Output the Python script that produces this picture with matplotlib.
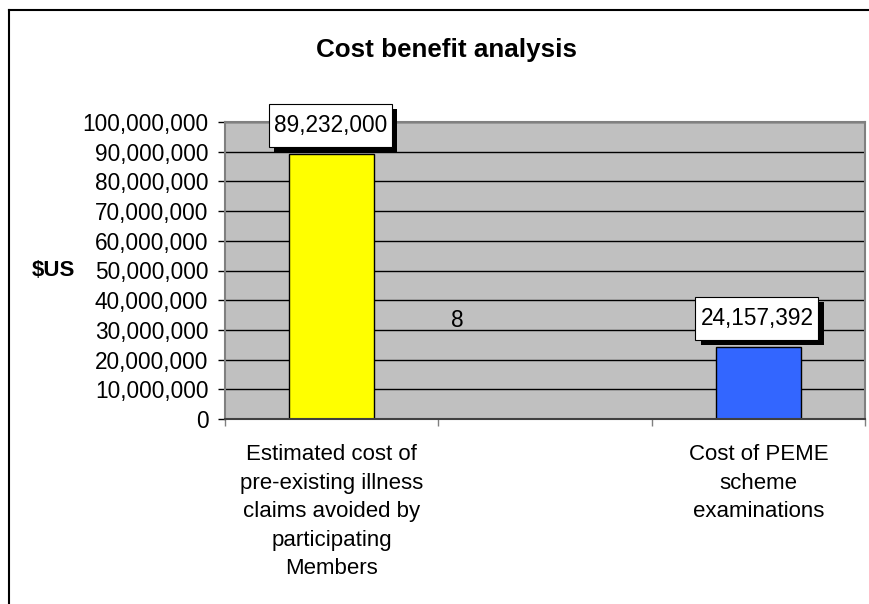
import matplotlib
matplotlib.use("Agg")
import matplotlib.pyplot as plt
import matplotlib.patheffects as pe
from matplotlib.lines import Line2D
from matplotlib.path import Path
from matplotlib.ticker import FuncFormatter, MultipleLocator, FixedLocator

plt.rcParams['font.family'] = ['Liberation Sans', 'DejaVu Sans']

categories = ["Estimated cost of\npre-existing illness\nclaims avoided by\nparticipating\nMembers",
              "",
              "Cost of PEME\nscheme\nexaminations"]
values = [89232000, 8, 24157392]
bar_colors = ["#FFFF00", "#C0C0C0", "#3366FF"]
value_labels = ["89,232,000", None, "24,157,392"]
middle_label = "8"
title = "Cost benefit analysis"
ylabel = "$US"


def label_box(x0, y0, width, height, mutation_size):
    padx = 0.22 * mutation_size
    pady = 0.45 * mutation_size
    x1, y1 = x0 + width + padx, y0 + height + pady
    xa, ya = x0 - padx, y0 - pady
    return Path([(xa, ya), (x1, ya), (x1, y1), (xa, y1), (xa, ya)],
                [Path.MOVETO, Path.LINETO, Path.LINETO, Path.LINETO, Path.CLOSEPOLY])


fig = plt.figure(figsize=(8.69, 6.04), dpi=100)
ax = fig.add_axes([225/869, 1-419/604, 640/869, 297/604])
ax.set_facecolor("#C0C0C0")

x = list(range(len(categories)))
ax.bar(x, values, width=0.4, color=bar_colors, edgecolor="black", linewidth=1, zorder=2)

ax.set_xlim(-0.5, len(categories) - 0.5)
ax.set_ylim(0, 100000000)
ax.yaxis.set_major_locator(MultipleLocator(10000000))
ax.yaxis.set_major_formatter(FuncFormatter(lambda v, p: f"{int(v):,}"))
ax.set_axisbelow(True)
ax.grid(axis="y", color="black", linewidth=1)
ax.grid(axis="x", visible=False)

ax.set_xticks(x)
ax.set_xticklabels(categories, fontsize=16, linespacing=1.47, va="top")
ax.xaxis.set_minor_locator(FixedLocator([i - 0.5 for i in range(len(categories) + 1)]))
ax.tick_params(axis="x", which="major", length=0, pad=18)
ax.tick_params(axis="x", which="minor", length=5, width=1, color="#808080")
ax.tick_params(axis="y", length=5, width=1, color="black", labelsize=16.3, pad=7)

for s in ax.spines.values():
    s.set_color("#808080")
    s.set_linewidth(1.5)
ax.spines["bottom"].set_color("#404040")

for xi, v, lab in zip(x, values, value_labels):
    if lab is None:
        continue
    ann = ax.annotate(lab, xy=(xi, v), xytext=(-1, 20.7), textcoords="offset points",
                      ha="center", va="center", fontsize=16.3, color="black",
                      bbox=dict(boxstyle=label_box, facecolor="white", edgecolor="black", linewidth=0.8),
                      zorder=5)
    ann.get_bbox_patch().set_path_effects([
        pe.SimplePatchShadow(offset=(3.8, -3.8), shadow_rgbFace="black", alpha=1.0),
        pe.Normal()])

ax.text(0.59, 33300000, middle_label, ha="center", va="center", fontsize=16.3)

fig.text(447/869, 1-57/604, title, ha="center", va="baseline", fontsize=18.7, fontweight="bold")
fig.text(53/869, 1-271/604, ylabel, ha="center", va="center", fontsize=16, fontweight="bold")

fig.add_artist(Line2D([9/869, 9/869], [0, 1-10/604], color="black", linewidth=1.5, transform=fig.transFigure))
fig.add_artist(Line2D([9/869, 1], [1-10/604, 1-10/604], color="black", linewidth=1.5, transform=fig.transFigure))

fig.savefig("out.png", dpi=100, facecolor="white")
